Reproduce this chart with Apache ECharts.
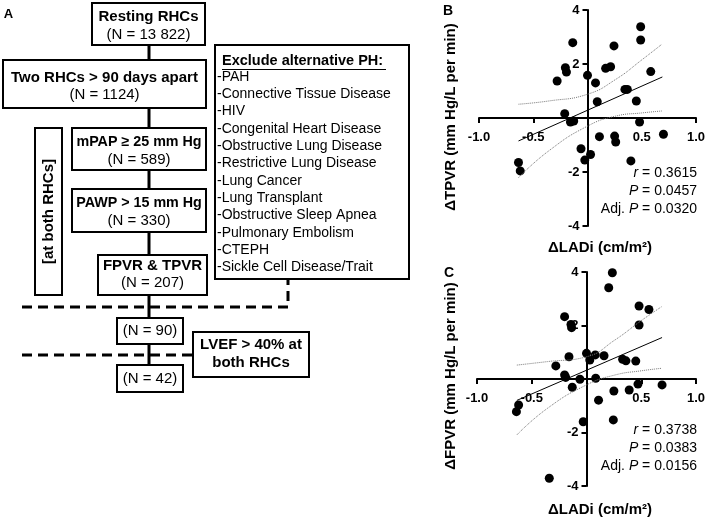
<!DOCTYPE html>
<html>
<head>
<meta charset="utf-8">
<script src="https://cdn.jsdelivr.net/npm/echarts@6/dist/echarts.min.js"></script>
<style>
  html, body { margin: 0; padding: 0; background: #fff; }
  #chart { width: 709px; height: 521px; }
</style>
</head>
<body>
<div id="chart"></div>
<script>
const FONT = '"Liberation Sans", Arial, Helvetica, sans-serif';

// 面板 B: ΔLADi vs ΔTPVR
const bLADi = [0.49, 0.49, -0.136, 0.244, -0.204, -0.194, 0.167, 0.213, 0.0, 0.583,
  -0.28, 0.074, 0.345, 0.367, 0.09, 0.45, -0.21, -0.157, -0.127, 0.48,
  0.11, 0.25, 0.26, 0.70, -0.06, 0.028, -0.025, 0.40, -0.636, -0.62, -0.35];
const bTPVR = [3.38, 2.89, 2.79, 2.67, 1.86, 1.70, 1.84, 1.90, 1.58, 1.72,
  1.37, 1.30, 1.06, 1.06, 0.60, 0.63, 0.16, -0.15, -0.11, -0.15,
  -0.69, -0.67, -0.89, -0.60, -1.14, -1.35, -1.56, -1.59, -1.65, -1.96, -4.01];

// 面板 C: ΔLADi vs ΔFPVR
const cLADi = [0.236, 0.203, 0.48, 0.57, -0.20, -0.142, 0.48, 0.0, 0.03, 0.08,
  0.16, -0.16, 0.33, 0.36, 0.45, -0.28, -0.20, -0.19, -0.06, 0.084,
  -0.13, 0.47, 0.69, 0.39, 0.25, 0.11, -0.03, 0.245, -0.62, -0.64, -0.34, -0.136];
const cFPVR = [3.97, 3.41, 2.73, 2.60, 2.33, 2.04, 2.02, 0.96, 0.71, 0.90,
  0.87, 0.83, 0.74, 0.68, 0.67, 0.49, 0.15, 0.06, -0.01, 0.03,
  -0.31, -0.19, -0.22, -0.41, -0.45, -0.79, -1.60, -1.53, -0.97, -1.22, -3.71, 1.92];

// 回归线与置信带
const fitX = [-0.636, 0.69];
const bFitY = [-0.85, 1.52];
const cFitY = [-0.80, 1.55];
const bandX = [-0.636, -0.358, 0, 0.26, 0.506, 0.685];
const bUpper = [0.51, 0.63, 0.88, 1.43, 2.17, 2.73];
const bLower = [-2.21, -1.22, -0.30, 0.07, 0.19, 0.26];
const cUpper = [0.52, 0.65, 0.83, 1.46, 2.20, 2.70];
const cLower = [-2.09, -1.10, -0.22, 0.15, 0.31, 0.40];

const bStats = ['0.3615', '0.0457', '0.0320'];
const cStats = ['0.3738', '0.0383', '0.0156'];

// 流程图文字
const steps = ['Resting RHCs', 'Two RHCs > 90 days apart', 'mPAP ≥ 25 mm Hg', 'PAWP > 15 mm Hg', 'FPVR & TPVR'];
const counts = ['13 822', '1124', '589', '330', '207', '90', '42'];
const exclusions = ['-PAH', '-Connective Tissue Disease', '-HIV', '-Congenital Heart Disease',
  '-Obstructive Lung Disease', '-Restrictive Lung Disease', '-Lung Cancer', '-Lung Transplant',
  '-Obstructive Sleep Apnea', '-Pulmonary Embolism', '-CTEPH', '-Sickle Cell Disease/Trait'];

const zip = (xs, ys) => xs.map((x, i) => [x, ys[i]]);

function box(x, y, w, h) {
  return { type: 'rect', shape: { x, y, width: w, height: h },
    style: { fill: '#fff', stroke: '#000', lineWidth: 2 } };
}
function txt(text, x, y, o) {
  o = o || {};
  return { type: 'text', x, y, rotation: o.rotation || 0,
    style: { text, fill: '#000', fontFamily: FONT, fontSize: o.size || 15,
      fontWeight: o.bold ? 'bold' : 'normal', align: o.align || 'center',
      verticalAlign: 'middle', rich: o.rich } };
}
function dashed(points) {
  return { type: 'polyline', shape: { points },
    style: { stroke: '#000', lineWidth: 3, lineDash: [10, 6], fill: null } };
}

let g = [];
// 主干连线
g.push({ type: 'line', shape: { x1: 149, y1: 45, x2: 149, y2: 365 }, style: { stroke: '#000', lineWidth: 3 } });
g.push(dashed([[22, 307], [288, 307], [288, 280]]));
g.push(dashed([[22, 355], [193, 355]]));

g.push(box(92, 3, 113, 42));
g.push(txt(steps[0], 148.5, 17, { bold: true }));
g.push(txt('(N = ' + counts[0] + ')', 148.5, 35));

g.push(box(3, 60, 203, 48));
g.push(txt(steps[1], 104.5, 78, { bold: true }));
g.push(txt('(N = ' + counts[1] + ')', 104.5, 95));

g.push(box(72, 128, 134, 42));
g.push(txt(steps[2], 139, 142, { bold: true, size: 14.3 }));
g.push(txt('(N = ' + counts[2] + ')', 139, 160));

g.push(box(72, 189, 134, 43));
g.push(txt(steps[3], 139, 203, { bold: true, size: 14.3 }));
g.push(txt('(N = ' + counts[3] + ')', 139, 221));

g.push(box(98, 255, 109, 40));
g.push(txt(steps[4], 152.5, 266, { bold: true }));
g.push(txt('(N = ' + counts[4] + ')', 152.5, 283));

g.push(box(117, 318, 66, 26));
g.push(txt('(N = ' + counts[5] + ')', 150, 331));
g.push(box(117, 365, 66, 27));
g.push(txt('(N = ' + counts[6] + ')', 150, 378.5));

g.push(box(193, 332, 116, 45));
g.push(txt('LVEF > 40% at', 251, 345, { bold: true }));
g.push(txt('both RHCs', 251, 363, { bold: true }));

g.push(box(35, 128, 27, 167));
g.push(txt('[at both RHCs]', 48.5, 211.5, { bold: true, rotation: Math.PI / 2 }));

g.push(box(215, 45, 194, 234));
g.push(txt('Exclude alternative PH:', 222, 61, { bold: true, align: 'left', size: 14.5 }));
g.push({ type: 'line', shape: { x1: 222, y1: 69.5, x2: 386, y2: 69.5 }, style: { stroke: '#000', lineWidth: 1.2 } });
exclusions.forEach((e, i) => g.push(txt(e, 217, 77 + i * 17.3, { align: 'left', size: 14 })));

// 面板标签
g.push(txt('A', 8.5, 14, { bold: true, size: 13 }));
g.push(txt('B', 448, 11.5, { bold: true, size: 14 }));
g.push(txt('C', 449, 273, { bold: true, size: 14 }));

// 坐标轴名称
g.push(txt('ΔTPVR (mm Hg/L per min)', 451, 117, { bold: true, rotation: Math.PI / 2 }));
g.push(txt('ΔFPVR (mm Hg/L per min)', 451, 376, { bold: true, rotation: Math.PI / 2 }));
g.push(txt('ΔLADi (cm/m²)', 600, 248, { bold: true }));
g.push(txt('ΔLADi (cm/m²)', 600, 510, { bold: true }));

// 统计注释
const rich = { i: { fontStyle: 'italic', fontSize: 14, fontFamily: FONT } };
function stats(vals, y0) {
  g.push(txt('{i|r} = ' + vals[0], 697, y0, { align: 'right', size: 14, rich }));
  g.push(txt('{i|P} = ' + vals[1], 697, y0 + 18, { align: 'right', size: 14, rich }));
  g.push(txt('Adj. {i|P} = ' + vals[2], 697, y0 + 36, { align: 'right', size: 14, rich }));
}
stats(bStats, 173);
stats(cStats, 430);

// 轴线放在零点（对称区间，偏移半个绘图区）
function xAxisOf(gridIndex, h) {
  return {
    type: 'value', gridIndex, min: -1, max: 1, interval: 0.5, position: 'bottom', offset: -h / 2,
    axisLine: { onZero: false, lineStyle: { color: '#000', width: 2 } },
    axisTick: { length: 5, lineStyle: { color: '#000', width: 2 } },
    axisLabel: { margin: 13, color: '#000', fontWeight: 'bold', fontSize: 13, fontFamily: FONT,
      formatter: v => (v === 0 ? '' : v.toFixed(1)) },
    splitLine: { show: false }
  };
}
function yAxisOf(gridIndex, w) {
  return {
    type: 'value', gridIndex, min: -4, max: 4, interval: 2, position: 'left', offset: -w / 2,
    axisLine: { onZero: false, lineStyle: { color: '#000', width: 2 } },
    axisTick: { length: 5, lineStyle: { color: '#000', width: 2 } },
    axisLabel: { margin: 8, color: '#000', fontWeight: 'bold', fontSize: 13, fontFamily: FONT,
      formatter: v => (v === 0 ? '' : String(v)) },
    splitLine: { show: false }
  };
}

function panelSeries(i, xs, ys, fitY, upper, lower) {
  const band = d => ({ type: 'line', xAxisIndex: i, yAxisIndex: i, data: zip(bandX, d), smooth: true,
    symbol: 'none', silent: true, lineStyle: { color: '#777', width: 1, type: 'dotted' } });
  return [
    band(upper), band(lower),
    { type: 'line', xAxisIndex: i, yAxisIndex: i, data: zip(fitX, fitY), symbol: 'none', silent: true,
      lineStyle: { color: '#000', width: 1 } },
    { type: 'scatter', xAxisIndex: i, yAxisIndex: i, data: zip(xs, ys), symbolSize: 9,
      itemStyle: { color: '#000', opacity: 1 } }
  ];
}

const chart = echarts.init(document.getElementById('chart'));
chart.setOption({
  animation: false,
  backgroundColor: '#fff',
  grid: [
    { left: 479, top: 10, width: 217, height: 216, containLabel: false },
    { left: 477, top: 272, width: 219, height: 214, containLabel: false }
  ],
  xAxis: [xAxisOf(0, 216), xAxisOf(1, 214)],
  yAxis: [yAxisOf(0, 217), yAxisOf(1, 219)],
  series: [
    ...panelSeries(0, bLADi, bTPVR, bFitY, bUpper, bLower),
    ...panelSeries(1, cLADi, cFPVR, cFitY, cUpper, cLower)
  ],
  graphic: { elements: g }
});
</script>
</body>
</html>
